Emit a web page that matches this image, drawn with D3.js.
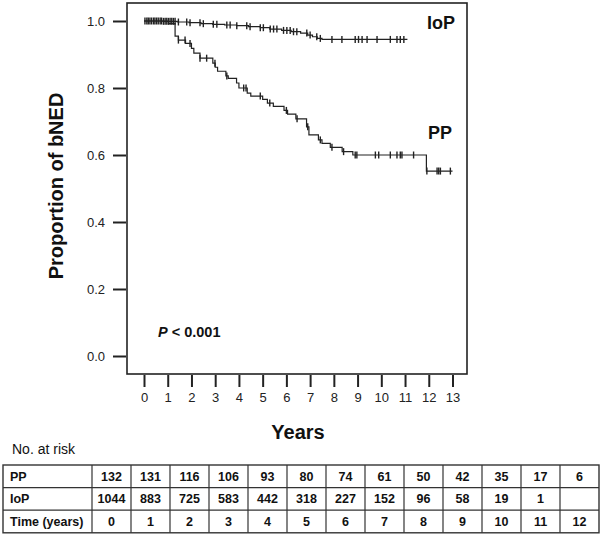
<!DOCTYPE html>
<html>
<head>
<meta charset="utf-8">
<script src="https://cdn.jsdelivr.net/npm/d3@7"></script>
<style>
body { margin: 0; background: #fff; }
svg { font-family: "Liberation Sans", Arial, sans-serif; }
</style>
</head>
<body>
<svg id="chart" width="600" height="536"></svg>
<script>
// step curves (time in years, proportion after the drop)
var ppTime = [0, 1.03, 1.31, 1.45, 1.75, 2.0, 2.1, 2.36, 2.9, 3.0, 3.1, 3.45, 3.55, 3.9, 4.0, 4.35, 4.5, 5.0, 5.2, 5.45, 5.9, 6.05, 6.4, 6.85, 6.95, 7.35, 7.5, 7.85, 8.35, 8.8, 11.9, 13.0];
var ppSurv = [1.0, 0.992, 0.955, 0.943, 0.933, 0.918, 0.904, 0.889, 0.874, 0.862, 0.850, 0.836, 0.829, 0.815, 0.800, 0.785, 0.776, 0.766, 0.755, 0.745, 0.733, 0.722, 0.708, 0.684, 0.660, 0.645, 0.635, 0.623, 0.610, 0.600, 0.552, 0.552];
var ppCensor = [1.45, 1.73, 1.94, 2.36, 2.64, 2.99, 3.49, 4.2, 4.3, 4.9, 5.3, 6.0, 6.45, 6.9, 7.43, 7.92, 8.41, 8.9, 8.97, 9.75, 9.89, 10.38, 10.66, 10.8, 10.87, 11.36, 11.92, 12.35, 12.42, 12.49, 12.91];

var iopTime = [0, 0.8, 1.4, 1.9, 2.4, 2.9, 3.4, 3.9, 4.4, 4.9, 5.3, 5.8, 6.2, 6.6, 6.9, 7.1, 7.3, 7.5, 11.1];
var iopSurv = [1.0, 0.999, 0.997, 0.995, 0.992, 0.990, 0.988, 0.986, 0.983, 0.980, 0.976, 0.972, 0.968, 0.964, 0.958, 0.953, 0.948, 0.945, 0.945];
var iopCensor = [0.04, 0.12, 0.18, 0.25, 0.32, 0.4, 0.46, 0.53, 0.6, 0.68, 0.74, 0.82, 0.89, 0.96, 1.03, 1.1, 1.17, 1.24, 1.31, 1.45, 1.8, 1.94, 2.36, 2.5, 2.92, 3.07, 3.49, 3.63, 3.91, 4.33, 4.47, 4.9, 5.03, 5.32, 5.46, 5.6, 5.88, 6.02, 6.16, 6.3, 6.44, 6.86, 7.0, 7.28, 7.43, 7.92, 8.34, 8.9, 9.04, 9.19, 9.4, 9.82, 10.38, 10.66, 10.8, 10.95];

var xTicks = d3.range(0, 14);
var yTicks = [0.0, 0.2, 0.4, 0.6, 0.8, 1.0];

// number at risk table
var riskHeader = ["PP", "IoP", "Time (years)"];
var riskPP = ["132", "131", "116", "106", "93", "80", "74", "61", "50", "42", "35", "17", "6"];
var riskIoP = ["1044", "883", "725", "583", "442", "318", "227", "152", "96", "58", "19", "1", ""];
var riskTime = ["0", "1", "2", "3", "4", "5", "6", "7", "8", "9", "10", "11", "12"];

var svg = d3.select("#chart");
var BOX = { left: 127, right: 467, top: 3, bottom: 374 };

var xScale = d3.scaleLinear().domain([0, 13]).range([144, 452.5]);
var yScale = d3.scaleLinear().domain([0, 1]).range([356, 21]);

// frame
svg.append("rect")
	.attr("x", BOX.left).attr("y", BOX.top)
	.attr("width", BOX.right - BOX.left).attr("height", BOX.bottom - BOX.top)
	.attr("fill", "none").attr("stroke", "#222").attr("stroke-width", 1.6);

// y axis (ticks outside the frame)
var yAxis = d3.axisLeft(yScale).tickValues(yTicks).tickFormat(d3.format(".1f")).tickSize(13).tickPadding(8);
var gy = svg.append("g").attr("transform", "translate(" + (BOX.left - 1) + ",0)").call(yAxis);
gy.select(".domain").remove();
gy.selectAll("line").attr("stroke", "#222").attr("stroke-width", 2);
gy.selectAll("text").attr("font-size", 13).attr("fill", "#222").attr("font-family", "Liberation Sans, Arial, sans-serif");

// x axis
var xAxis = d3.axisBottom(xScale).tickValues(xTicks).tickFormat(d3.format("d")).tickSize(12).tickPadding(6);
var gx = svg.append("g").attr("transform", "translate(0," + (BOX.bottom + 1) + ")").call(xAxis);
gx.select(".domain").remove();
gx.selectAll("line").attr("stroke", "#222").attr("stroke-width", 2);
gx.selectAll("text").attr("font-size", 13).attr("fill", "#222").attr("font-family", "Liberation Sans, Arial, sans-serif");

// axis titles
svg.append("text")
	.attr("transform", "translate(63,186) rotate(-90)")
	.attr("text-anchor", "middle")
	.attr("font-size", 20).attr("font-weight", "bold").attr("fill", "#111")
	.text("Proportion of bNED");

svg.append("text")
	.attr("x", 298).attr("y", 439)
	.attr("text-anchor", "middle")
	.attr("font-size", 20).attr("font-weight", "bold").attr("fill", "#111")
	.text("Years");

// curves
function stepValue(times, surv, t) {
	var v = surv[0];
	for (var i = 0; i < times.length; i++) {
		if (times[i] <= t) v = surv[i];
	}
	return v;
}

function drawCurve(times, surv, censor) {
	var pts = times.map(function(t, i) { return [t, surv[i]]; });
	var line = d3.line()
		.x(function(d) { return xScale(d[0]); })
		.y(function(d) { return yScale(d[1]); })
		.curve(d3.curveStepAfter);
	svg.append("path").attr("d", line(pts))
		.attr("fill", "none").attr("stroke", "#222").attr("stroke-width", 1.2);
	svg.append("g").selectAll("line").data(censor).enter().append("line")
		.attr("x1", function(d) { return xScale(d); })
		.attr("x2", function(d) { return xScale(d); })
		.attr("y1", function(d) { return yScale(stepValue(times, surv, d)) - 3.5; })
		.attr("y2", function(d) { return yScale(stepValue(times, surv, d)) + 3.5; })
		.attr("stroke", "#222").attr("stroke-width", 1.4);
}

drawCurve(iopTime, iopSurv, iopCensor);
drawCurve(ppTime, ppSurv, ppCensor);

// curve labels and p value
svg.append("text").attr("x", 427).attr("y", 29)
	.attr("font-size", 18).attr("font-weight", "bold").attr("fill", "#111").text("IoP");
svg.append("text").attr("x", 428).attr("y", 139)
	.attr("font-size", 18).attr("font-weight", "bold").attr("fill", "#111").text("PP");

var pText = svg.append("text").attr("x", 158).attr("y", 337)
	.attr("font-size", 14.5).attr("font-weight", "bold").attr("fill", "#111");
pText.append("tspan").attr("font-style", "italic").text("P");
pText.append("tspan").text(" < 0.001");

// number at risk
svg.append("text").attr("x", 12).attr("y", 454)
	.attr("font-size", 14).attr("fill", "#111").text("No. at risk");

var tableTop = 465, rowH = 22.6, tableLeft = 3, firstColW = 89, colW = 39;
var rows = [riskPP, riskIoP, riskTime];
var colX = d3.range(0, 14).map(function(i) { return tableLeft + firstColW + i * colW; });

var table = svg.append("g");
table.append("rect")
	.attr("x", tableLeft).attr("y", tableTop)
	.attr("width", colX[13] - tableLeft).attr("height", rowH * 3)
	.attr("fill", "none").attr("stroke", "#333").attr("stroke-width", 1.4);
table.selectAll("line.h").data([1, 2]).enter().append("line")
	.attr("x1", tableLeft).attr("x2", colX[13])
	.attr("y1", function(d) { return tableTop + d * rowH; })
	.attr("y2", function(d) { return tableTop + d * rowH; })
	.attr("stroke", "#333").attr("stroke-width", 1.2);
table.selectAll("line.v").data(colX.slice(0, 13)).enter().append("line")
	.attr("x1", function(d) { return d; }).attr("x2", function(d) { return d; })
	.attr("y1", tableTop).attr("y2", tableTop + rowH * 3)
	.attr("stroke", "#333").attr("stroke-width", 1.2);

rows.forEach(function(row, r) {
	var yText = tableTop + r * rowH + rowH / 2 + 4.5;
	table.append("text").attr("x", 10).attr("y", yText)
		.attr("font-size", 12.5).attr("font-weight", "bold").attr("fill", "#111")
		.text(riskHeader[r]);
	table.selectAll("text.c" + r).data(row).enter().append("text")
		.attr("x", function(d, i) { return colX[i] + colW / 2; })
		.attr("y", yText)
		.attr("text-anchor", "middle")
		.attr("font-size", 12.5).attr("font-weight", "bold").attr("fill", "#111")
		.text(function(d) { return d; });
});
</script>
</body>
</html>
